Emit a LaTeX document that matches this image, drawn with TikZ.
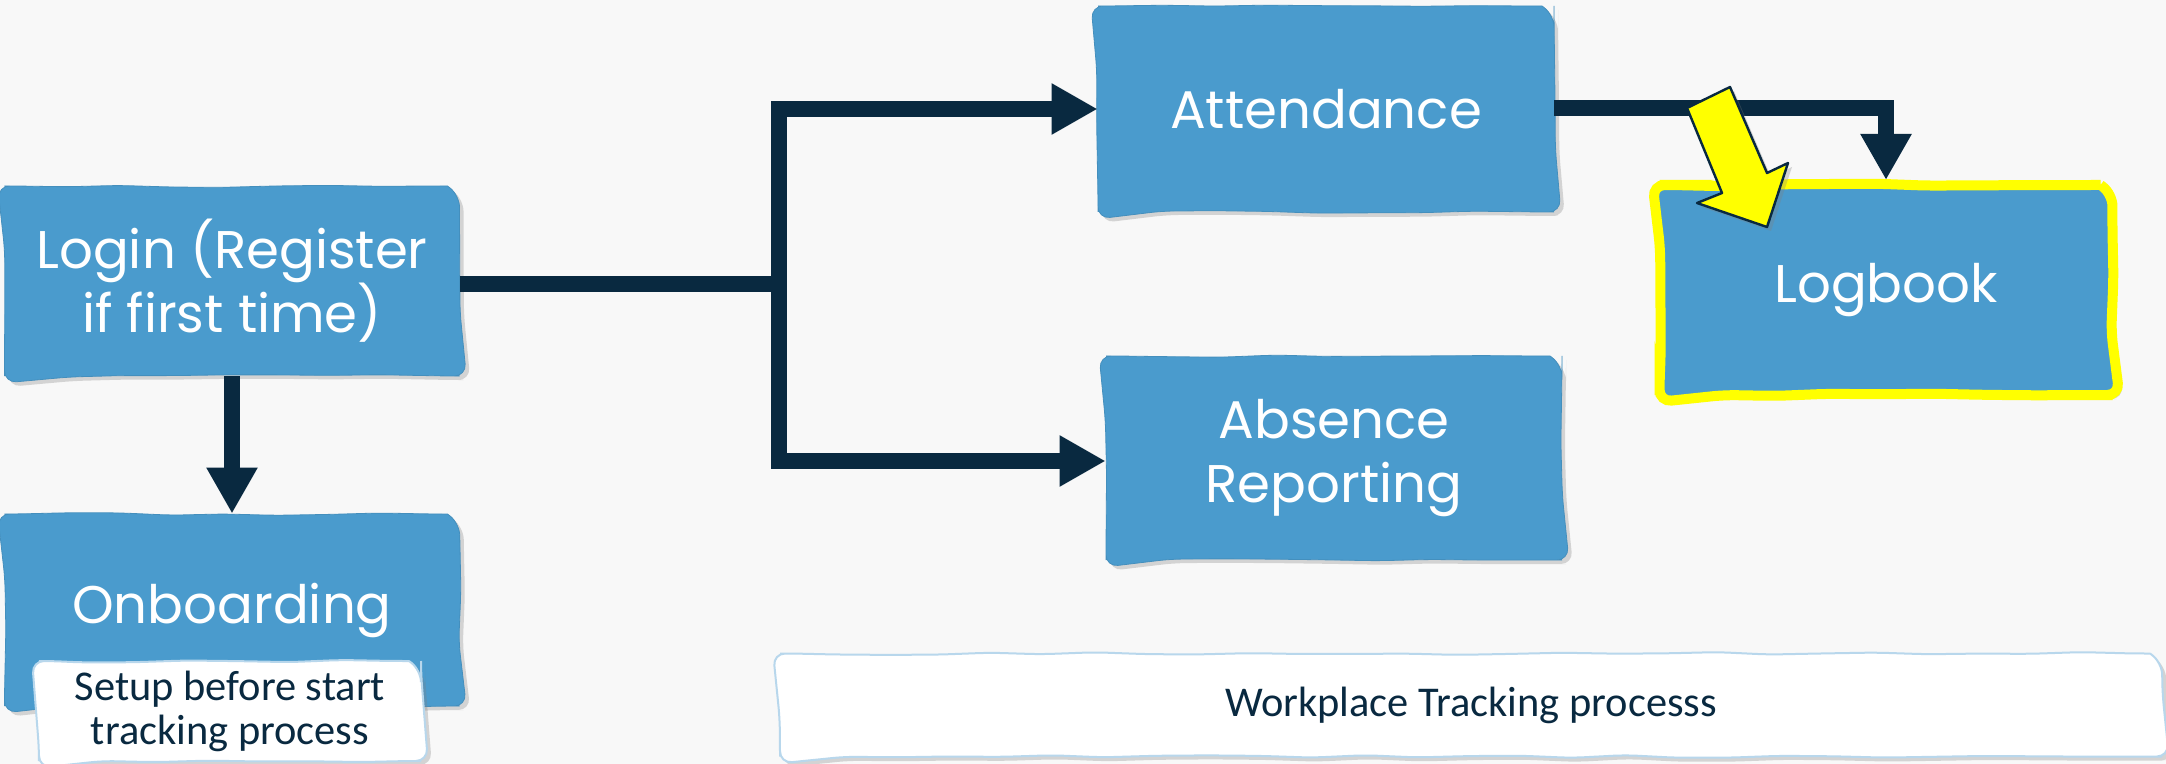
\documentclass[tikz,border=0pt]{standalone}
\usepackage{fontspec}
\newfontfamily\pop{Poppins}
\newfontfamily\carl{Carlito}
\usetikzlibrary{arrows.meta,shadows,decorations.pathmorphing,calc}
\definecolor{bg}{RGB}{248,248,248}
\definecolor{boxblue}{RGB}{74,155,205}
\definecolor{navy}{RGB}{9,41,64}
\definecolor{notebd}{RGB}{184,215,236}
\definecolor{hl}{RGB}{255,255,0}
\begin{document}
\begin{tikzpicture}[x=0.5pt,y=-0.5pt,
  hand/.style={decorate, decoration={random steps, segment length=26pt, amplitude=0.7pt, pre length=8pt, post length=8pt}, rounded corners=6pt},
  shad/.style={drop shadow={shadow xshift=2pt, shadow yshift=-2pt, opacity=0.3}},
  box/.style={hand, shad, fill=boxblue, draw=boxblue!92!black, line width=0.4pt, text=white,
    font=\pop\fontsize{26.5}{32}\selectfont, align=center, inner sep=0pt},
  note/.style={hand, shad, fill=white, draw=notebd, line width=1pt, text=navy,
    font=\carl\fontsize{21.2}{22}\selectfont, align=center, inner sep=0pt},
  conn/.style={draw=navy, line width=8pt, line join=miter},
  tip/.style={-{Triangle[length=23pt,width=24pt]}}
]
\pgfmathsetseed{7}
\fill[bg] (0,0) rectangle (2166,764);
\useasboundingbox (0,0) rectangle (2166,764);

\node[box, minimum width=227.5pt, minimum height=95pt] (login) at (232,281) {Login (Register\\if first time)};
\node[box, minimum width=227.5pt, minimum height=96pt] (onboard) at (232,610) {Onboarding};
\node[note, minimum width=191pt, minimum height=50pt] (setup) at (230,711) {Setup before start\\tracking process};
\node[box, minimum width=228pt, minimum height=103pt] (attend) at (1326,109) {Attendance};
\node[box, minimum width=228pt, minimum height=102pt] (absence) at (1334,458) {Absence\\Reporting};
\node[box, draw=hl, line width=5pt, minimum width=226.5pt, minimum height=105pt] (logbook) at (1886,290) {Logbook};
\node[note, minimum width=691pt, minimum height=51.5pt] (wp) at (1471,705) {Workplace Tracking processs};

\coordinate (j) at (779,284);
\draw[conn] (login.east |- j) -- (j);
\draw[conn, tip] (j) |- (attend.west);
\draw[conn, tip] (j) |- (absence.west |- 0,461);
\draw[conn, tip] (login.south) -- (onboard.north);
\draw[conn, tip] (attend.east |- 0,108) -| (logbook.north);

\draw[shad, fill=hl, draw=navy, line width=1.2pt, line join=round]
  (1687,108) -- (1730,87) -- (1767,173) -- (1788,163) -- (1767,227) -- (1697,203) -- (1722,193) -- cycle;
\end{tikzpicture}
\end{document}
